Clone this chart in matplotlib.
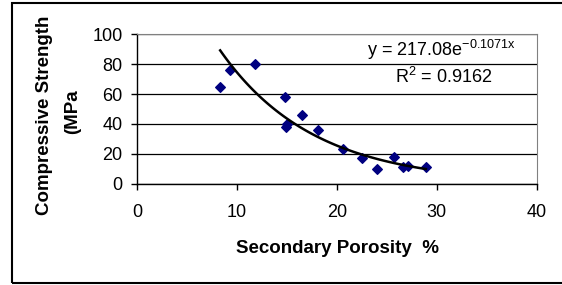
import numpy as np
import matplotlib.pyplot as plt
from matplotlib.patches import Rectangle

plt.rcParams['font.family'] = ['Liberation Sans', 'DejaVu Sans']

# measured points (secondary porosity %, compressive strength MPa)
porosity = [8.3, 9.3, 11.8, 14.8, 14.9, 15.0, 16.5, 18.1, 20.6, 22.5, 24.0, 25.7, 26.6, 27.1, 28.9]
strength = [65, 76, 80, 58, 38, 40, 46, 36, 23, 17, 10, 18, 11, 12, 11]

# exponential trend line from the chart
coef_a = 217.08
coef_b = -0.1071
r_squared = 0.9162

fig = plt.figure(figsize=(5.62, 2.85), dpi=100)
ax = fig.add_axes([0.2443, 0.3554, 0.7107, 0.5242])

# outer chart frame (right side runs off the picture)
fig.patches.append(Rectangle((11.5 / 562, 2.5 / 285), 600 / 562, 280 / 285,
                             transform=fig.transFigure, fill=False,
                             edgecolor='black', linewidth=1.5))

ax.grid(axis='y', color='black', linewidth=0.9, zorder=0)
ax.set_axisbelow(True)

x_fit = np.linspace(min(porosity), max(porosity), 100)
ax.plot(x_fit, coef_a * np.exp(coef_b * x_fit), color='black', linewidth=1.8, zorder=3)
ax.scatter(porosity, strength, marker='D', s=24, color='#000080', zorder=2)

ax.set_xlim(0, 40)
ax.set_ylim(0, 100)
ax.set_xticks([0, 10, 20, 30, 40])
ax.set_yticks([0, 20, 40, 60, 80, 100])
ax.tick_params(labelsize=13, length=4.5, width=1, direction='out', colors='black')
ax.tick_params(axis='x', pad=10)
ax.tick_params(axis='y', pad=6)

for side in ['top', 'right']:
    ax.spines[side].set_color('#808080')
for side in ['left', 'bottom']:
    ax.spines[side].set_color('black')
    ax.spines[side].set_linewidth(1)

ax.set_xlabel('Secondary Porosity  %', fontsize=13.5, fontweight='bold', labelpad=14)
fig.text(45 / 562, 1 - 115 / 285, 'Compressive Strength', rotation=90, fontsize=13.5,
         fontweight='bold', ha='center', va='center')
fig.text(73 / 562, 1 - 112 / 285, '(MPa', rotation=90, fontsize=13.5,
         fontweight='bold', ha='center', va='center')

ax.text(0.948, 0.975, r'y = 217.08e$^{\mathregular{-0.1071x}}$', transform=ax.transAxes,
        fontsize=13, ha='right', va='top')
ax.text(0.89, 0.78, 'R$^{\\mathregular{2}}$ = %.4f' % r_squared, transform=ax.transAxes,
        fontsize=13, ha='right', va='top')

fig.savefig('out.png', dpi=100)
